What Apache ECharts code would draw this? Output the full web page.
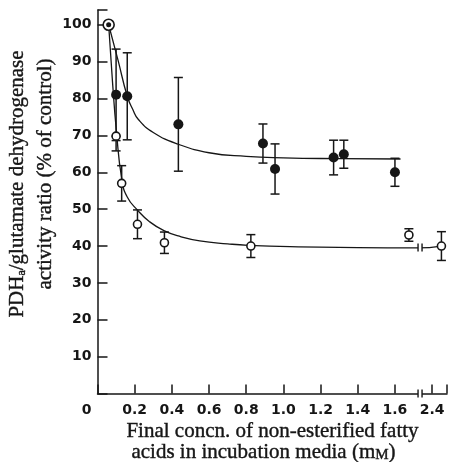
<!DOCTYPE html>
<html>
<head>
<meta charset="utf-8">
<title>PDHa / glutamate dehydrogenase</title>
<script src="https://cdn.jsdelivr.net/npm/echarts@6/dist/echarts.min.js"></script>
<style>
  html, body { margin: 0; padding: 0; background: #fff; }
  #main { width: 450px; height: 462px; }
</style>
</head>
<body>
<div id="main"></div>
<script>
// x in mM, y in % of control
var controlX = [0.06];
var controlY = [100];

// filled circles (mean, error below / above)
var filledX = [0.10, 0.16, 0.435, 0.89, 0.955, 1.27, 1.325, 1.60];
var filledY = [81, 80.6, 73, 67.8, 60.9, 64, 64.9, 60];
var filledErrDown = [12.4, 11.8, 12.7, 5.3, 6.8, 4.7, 3.8, 3.8];
var filledErrUp = [12.4, 11.8, 12.7, 5.3, 6.8, 4.7, 3.8, 3.8];

// open circles
var openX = [0.10, 0.13, 0.215, 0.36, 0.825, 1.675, 2.45];
var openY = [69.8, 57, 45.9, 40.9, 40, 43, 40];
var openErrDown = [4, 4.8, 3.9, 2.9, 3.1, 1.7, 3.9];
var openErrUp = [0, 4.8, 3.9, 2.9, 3.1, 1.7, 3.9];

// fitted curves
var filledCurveX = [0.06, 0.11, 0.16, 0.19, 0.22, 0.3, 0.435, 0.6, 0.8, 1.0, 1.3, 1.63];
var filledCurveY = [100, 90.5, 80.6, 77, 74.3, 70.8, 67.6, 65.3, 64.3, 63.9, 63.7, 63.6];
var openCurveX = [0.06, 0.08, 0.102, 0.131, 0.16, 0.214, 0.28, 0.36, 0.45, 0.55, 0.7, 0.81, 1.08, 1.4, 1.72, 2.45];
var openCurveY = [100, 85, 71, 58, 53.3, 49.8, 46.6, 44.1, 42.5, 41.4, 40.6, 40.2, 39.8, 39.6, 39.5, 40];

// tick labels
var xTicks = [0, 0.2, 0.4, 0.6, 0.8, 1.0, 1.2, 1.4, 1.6, 2.4];
var yTicks = [10, 20, 30, 40, 50, 60, 70, 80, 90, 100];

// axis break: 2.4 sits where 1.8 would be
var breakFrom = 2.4, breakTo = 1.8;
var breakAt = 1.735;
var breakY = [0, 39.6];

var ink = '#161616';

function tx(v) {
  return v >= 2 ? v - (breakFrom - breakTo) : v;
}
function pairs(xs, ys) {
  return xs.map(function (x, i) { return [tx(x), ys[i]]; });
}
function bars(xs, ys, dn, up) {
  return xs.map(function (x, i) { return [tx(x), ys[i] - dn[i], ys[i] + up[i]]; });
}

// error bar with caps
function renderBar(params, api) {
  var lo = api.coord([api.value(0), api.value(1)]);
  var hi = api.coord([api.value(0), api.value(2)]);
  var w = 4.5;
  var st = { stroke: ink, lineWidth: 1.5 };
  return {
    type: 'group',
    children: [
      { type: 'line', shape: { x1: lo[0], y1: lo[1], x2: hi[0], y2: hi[1] }, style: st },
      { type: 'line', shape: { x1: lo[0] - w, y1: lo[1], x2: lo[0] + w, y2: lo[1] }, style: st },
      { type: 'line', shape: { x1: hi[0] - w, y1: hi[1], x2: hi[0] + w, y2: hi[1] }, style: st }
    ]
  };
}

// "||" break mark
function renderBreak(params, api) {
  var p = api.coord([api.value(0), api.value(1)]);
  var g = 2, h = 4;
  var st = { stroke: ink, lineWidth: 1.4 };
  return {
    type: 'group',
    children: [
      { type: 'rect', shape: { x: p[0] - g, y: p[1] - 2, width: 2 * g, height: 4 }, style: { fill: '#fff' } },
      { type: 'line', shape: { x1: p[0] - g, y1: p[1] - h, x2: p[0] - g, y2: p[1] + h }, style: st },
      { type: 'line', shape: { x1: p[0] + g, y1: p[1] - h, x2: p[0] + g, y2: p[1] + h }, style: st }
    ]
  };
}

var serif = 'Liberation Serif, Times New Roman, serif';
var sans = 'DejaVu Sans, sans-serif';
var fs = 21;

function title(x, y, rot, text, rich) {
  return {
    type: 'text', x: x, y: y, rotation: rot,
    style: {
      text: text, rich: rich,
      textAlign: 'center', textVerticalAlign: 'middle',
      fill: ink, stroke: ink, lineWidth: 0.4,
      font: fs + 'px ' + serif
    }
  };
}

var chart = echarts.init(document.getElementById('main'));
chart.setOption({
  backgroundColor: '#fff',
  animation: false,
  grid: { left: 97.5, right: 0, top: 10, bottom: 68.4 },
  xAxis: {
    type: 'value',
    min: 0,
    max: 1.88,
    interval: 0.2,
    splitLine: { show: false },
    axisLine: { lineStyle: { color: ink, width: 1.5 } },
    axisTick: { inside: true, length: 9, lineStyle: { color: ink, width: 1.5 } },
    axisLabel: {
      margin: 10,
      fontSize: 14,
      fontWeight: 'bold',
      fontFamily: sans,
      color: ink,
      formatter: function (v) {
        for (var i = 0; i < xTicks.length; i++) {
          if (Math.abs(tx(xTicks[i]) - v) < 1e-6) {
            if (xTicks[i] === 0) return '{z|0}';
            return xTicks[i].toFixed(1);
          }
        }
        return '';
      },
      rich: { z: { fontSize: 14, fontWeight: 'bold', fontFamily: sans, color: ink, padding: [0, 22, 0, 0] } }
    }
  },
  yAxis: {
    type: 'value',
    min: 0,
    max: 104,
    interval: 10,
    splitLine: { show: false },
    axisLine: { lineStyle: { color: ink, width: 1.5 } },
    axisTick: { inside: true, length: 10, lineStyle: { color: ink, width: 1.5 } },
    axisLabel: {
      margin: 6,
      fontSize: 14,
      fontWeight: 'bold',
      fontFamily: sans,
      color: ink,
      formatter: function (v) {
        return yTicks.indexOf(v) >= 0 ? String(v) : '';
      }
    }
  },
  graphic: [
    title(17, 184, Math.PI / 2, '{n|PDH}{s|a}{n|/glutamate dehydrogenase}', {
      n: { fontSize: fs, fontFamily: serif, fill: ink, lineHeight: 22 },
      s: { fontSize: 12, fontFamily: serif, fill: ink, lineHeight: 11, verticalAlign: 'bottom' }
    }),
    title(45, 174, Math.PI / 2, 'activity ratio (% of control)'),
    title(272.5, 431, 0, 'Final concn. of non-esterified fatty'),
    title(263.5, 452, 0, '{n|acids in incubation media (m}{sc|M}{n|)}', {
      n: { fontSize: fs, fontFamily: serif, fill: ink },
      sc: { fontSize: 15, fontFamily: serif, fill: ink, verticalAlign: 'bottom', lineHeight: 20 }
    })
  ],
  series: [
    {
      type: 'line', data: pairs(filledCurveX, filledCurveY), smooth: 0.5,
      symbol: 'none', lineStyle: { color: ink, width: 1.3 }, z: 2
    },
    {
      type: 'line', data: pairs(openCurveX, openCurveY), smooth: 0.5,
      symbol: 'none', lineStyle: { color: ink, width: 1.3 }, z: 2
    },
    {
      type: 'custom', data: bars(filledX, filledY, filledErrDown, filledErrUp), renderItem: renderBar,
      encode: { x: 0, y: [1, 2] }, clip: false, z: 3
    },
    {
      type: 'custom', data: bars(openX, openY, openErrDown, openErrUp), renderItem: renderBar,
      encode: { x: 0, y: [1, 2] }, clip: false, z: 3
    },
    {
      type: 'scatter', data: pairs(filledX, filledY), symbol: 'circle', symbolSize: 10,
      itemStyle: { color: ink, opacity: 1 }, z: 4
    },
    {
      type: 'scatter', data: pairs(openX, openY), symbol: 'circle', symbolSize: 8,
      itemStyle: { color: '#fff', borderColor: ink, borderWidth: 1.6, opacity: 1 }, z: 4
    },
    {
      // control: open ring with a dot inside
      type: 'scatter', data: pairs(controlX, controlY), symbol: 'circle', symbolSize: 11,
      itemStyle: { color: '#fff', borderColor: ink, borderWidth: 1.6, opacity: 1 }, z: 5
    },
    {
      type: 'scatter', data: pairs(controlX, controlY), symbol: 'circle', symbolSize: 5,
      itemStyle: { color: ink, opacity: 1 }, z: 6
    },
    {
      type: 'custom', data: breakY.map(function (y) { return [breakAt, y]; }), renderItem: renderBreak,
      encode: { x: 0, y: 1 }, clip: false, z: 7
    }
  ]
});
</script>
</body>
</html>
